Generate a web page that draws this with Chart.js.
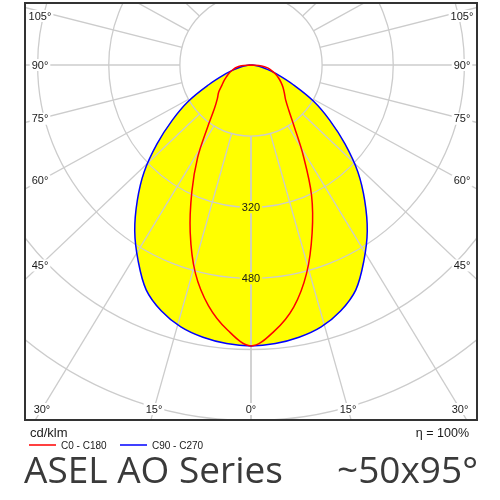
<!DOCTYPE html>
<html>
<head>
<meta charset="utf-8">
<script src="https://cdn.jsdelivr.net/npm/chart.js@4.4.1/dist/chart.umd.min.js"></script>
<style>
html,body{margin:0;padding:0;background:#fff;}
#wrap{width:500px;height:500px;position:relative;}
</style>
</head>
<body>
<div id="wrap"><canvas id="chart"></canvas></div>
<script>
// gamma angles (deg) and intensities in cd/klm
const gammas = [0,5,10,15,20,25,30,35,40,45,50,55,60,65,70,75,80,85,90];
const c0   = [632,601,553,484,402,322,235,170,132,110,98,88,78,68,58,48,38,24,0];
const c180 = [632,599,550,484,400,315,240,170,128,107,95,80,70,60,52,43,35,22,0];
const c90  = [632,629,622,610,589,558,508,456,398,340,276,216,162,105,65,38,22,10,0];
const c270 = [632,629,622,610,589,558,508,456,398,340,276,216,162,105,65,38,22,10,0];

const rings = [160,320,480,640,800,960];
const ringLabels = [320,480];
const angleTicks = [0,15,30,45,60,75,90,105,120,135,150,165,180];
const angleLabels = [0,15,30,45,60,75,90,105];

const SQUISH = 0.95; // radial lines in the source are slightly flattened

function toXY(leftVals, rightVals){
    let pts=[];
    for(let i=gammas.length-1;i>=0;i--){
        let g=gammas[i]*Math.PI/180;
        pts.push({x:-leftVals[i]*Math.sin(g), y:-leftVals[i]*Math.cos(g)});
    }
    for(let i=1;i<gammas.length;i++){
        let g=gammas[i]*Math.PI/180;
        pts.push({x:rightVals[i]*Math.sin(g), y:-rightVals[i]*Math.cos(g)});
    }
    return pts;
}

const polarGrid = {
    id:'polarGrid',
    afterDatasetDraw(chart,args){
        if(args.index!==0) return;
        const {ctx,chartArea:a,scales:{x,y}} = chart;
        const cx=x.getPixelForValue(0), cy=y.getPixelForValue(0);
        const k=x.getPixelForValue(1)-cx;
        ctx.save();
        ctx.beginPath();
        ctx.rect(a.left,a.top,a.right-a.left,a.bottom-a.top);
        ctx.clip();
        ctx.strokeStyle='#cccccc';
        ctx.lineWidth=1.3;
        rings.forEach(r=>{
            ctx.beginPath();
            ctx.arc(cx,cy,r*k,0,Math.PI*2);
            ctx.stroke();
        });
        const r0=rings[0]*k;
        angleTicks.forEach(t=>{
            [-1,1].forEach(s=>{
                let g=t*Math.PI/180;
                let dx=s*Math.sin(g), dy=SQUISH*Math.cos(g);
                let n=Math.hypot(dx,dy); dx/=n; dy/=n;
                ctx.beginPath();
                ctx.moveTo(cx+dx*r0, cy+dy*r0);
                ctx.lineTo(cx+dx*1200, cy+dy*1200);
                ctx.stroke();
            });
        });
        ctx.restore();
    },
    afterDraw(chart){
        const {ctx,chartArea:a,scales:{x,y}} = chart;
        const cx=x.getPixelForValue(0), cy=y.getPixelForValue(0);
        ctx.save();
        ctx.textAlign='center';
        ctx.textBaseline='middle';
        // angle labels
        ctx.font='11px "Liberation Sans", Arial, sans-serif';
        angleLabels.forEach(t=>{
            [-1,1].forEach(s=>{
                if(t===0 && s===1) return;
                let g=t*Math.PI/180;
                let dx=s*Math.sin(g), dy=SQUISH*Math.cos(g);
                let tx=Infinity, ty=Infinity;
                let lx = s<0 ? a.left+15 : a.right-15;
                if(Math.abs(dx)>1e-6) tx=(lx-cx)/dx;
                if(dy>1e-6) ty=(a.bottom-11-cy)/dy;
                let tt=Math.min(tx,ty);
                let px=cx+dx*tt, py=Math.max(cy+dy*tt, a.top+13);
                let txt=t+'°';
                let w=ctx.measureText(txt).width;
                ctx.fillStyle='#ffffff';
                ctx.fillRect(px-w/2-2,py-6,w+4,12);
                ctx.fillStyle='#1a1a1a';
                ctx.fillText(txt,px,py+0.5);
            });
        });
        // ring labels
        ringLabels.forEach(r=>{
            let py=y.getPixelForValue(-r);
            let txt=String(r);
            let w=ctx.measureText(txt).width;
            ctx.fillStyle='#ffff00';
            ctx.fillRect(cx-w/2-2,py-6,w+4,12);
            ctx.fillStyle='#1a1a1a';
            ctx.fillText(txt,cx,py+0.5);
        });
        // frame
        ctx.strokeStyle='#333333';
        ctx.lineWidth=2;
        ctx.strokeRect(a.left,a.top,a.right-a.left,a.bottom-a.top);
        // units, legend, efficiency
        ctx.textAlign='left';
        ctx.fillStyle='#1a1a1a';
        ctx.font='13px "Liberation Sans", Arial, sans-serif';
        ctx.fillText('cd/klm',30,433);
        ctx.textAlign='right';
        ctx.font='12.5px "Liberation Sans", Arial, sans-serif';
        ctx.fillText('η = 100%',469,434);
        ctx.textAlign='left';
        ctx.font='10px "Liberation Sans", Arial, sans-serif';
        chart.data.datasets.slice(1).reverse().forEach((ds,i)=>{
            let x0 = i===0 ? 29 : 120;
            ctx.strokeStyle=ds.borderColor;
            ctx.lineWidth=1.5;
            ctx.beginPath();
            ctx.moveTo(x0,445); ctx.lineTo(x0+27,445);
            ctx.stroke();
            ctx.fillText(ds.label,x0+32,446);
        });
        // title
        ctx.fillStyle='#3a3a3a';
        ctx.textBaseline='alphabetic';
        ctx.font='37px "Open Sans", sans-serif';
        ctx.textAlign='left';
        ctx.fillText('ASEL AO Series',24,483);
        ctx.textAlign='right';
        ctx.fillText('~50x95°',478,483);
        ctx.restore();
    }
};

let ctx = document.getElementById("chart").getContext("2d");
let wide = toXY(c270,c90);
let narrow = toXY(c180,c0);

let chart = new Chart(ctx,{
    type:'scatter',
    data:{
        datasets:[{
            label:'area',
            data:wide,
            showLine:true,
            borderWidth:0,
            borderColor:'rgba(0,0,0,0)',
            backgroundColor:'#ffff00',
            fill:'shape',
            tension:0.35,
            pointRadius:0,
            order:3,
        },{
            label:'C90 - C270',
            data:wide,
            showLine:true,
            borderColor:'#0000ff',
            borderWidth:1.5,
            fill:false,
            tension:0.35,
            pointRadius:0,
            order:2,
        },{
            label:'C0 - C180',
            data:narrow,
            showLine:true,
            borderColor:'#ff0000',
            borderWidth:1.5,
            fill:false,
            tension:0.35,
            pointRadius:0,
            order:1,
        }]
    },
    options:{
        animation:false,
        responsive:true,
        maintainAspectRatio:false,
        layout:{padding:{left:25,top:3,right:23,bottom:80}},
        plugins:{
            legend:{display:false},
            tooltip:{enabled:false},
        },
        scales:{
            x:{type:'linear',min:-508.4,max:508.4,display:false},
            y:{type:'linear',min:-798.6,max:139.5,display:false},
        }
    },
    plugins:[polarGrid]
});
</script>
</body>
</html>
